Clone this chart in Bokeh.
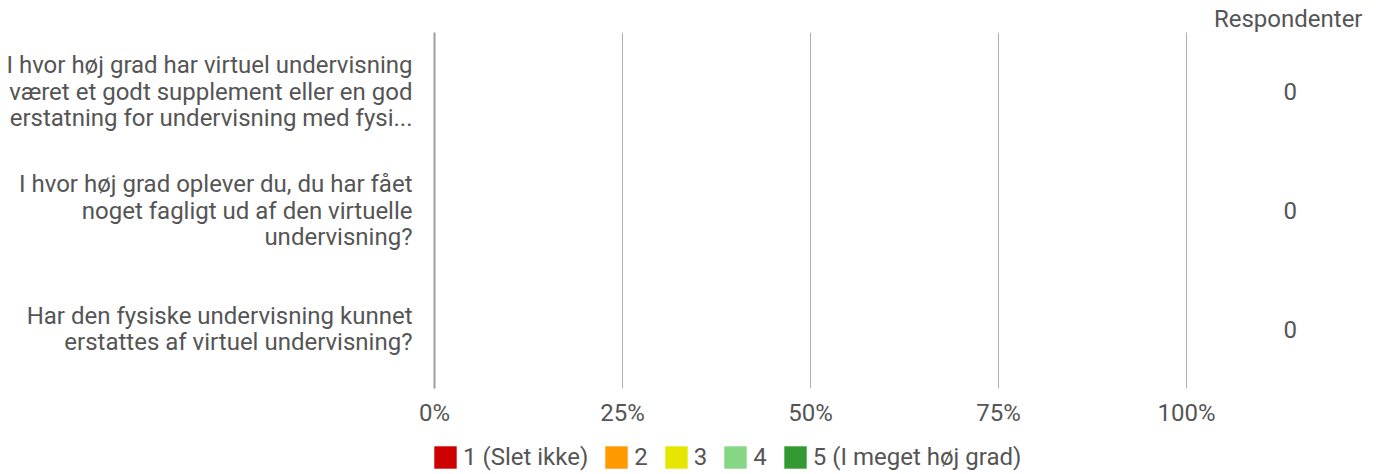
from bokeh.plotting import figure
from bokeh.layouts import column
from bokeh.models import Range1d, FixedTicker, Legend, LinearAxis, Title
from bokeh.embed import file_html
from bokeh.resources import INLINE

questions = [
    "I hvor høj grad har virtuel undervisning\nværet et godt supplement eller en god\nerstatning for undervisning med fysi...",
    "I hvor høj grad oplever du, du har fået\nnoget fagligt ud af den virtuelle\nundervisning?",
    "Har den fysiske undervisning kunnet\nerstattes af virtuel undervisning?",
]
series = ["1 (Slet ikke)", "2", "3", "4", "5 (I meget høj grad)"]
colors = ["#CC0000", "#FF9900", "#E6E600", "#85D685", "#339933"]
values = {
    "1 (Slet ikke)": [0, 0, 0],
    "2": [0, 0, 0],
    "3": [0, 0, 0],
    "4": [0, 0, 0],
    "5 (I meget høj grad)": [0, 0, 0],
}
respondents = [0, 0, 0]
respondents_header = "Respondenter"
x_ticks = [0, 25, 50, 75, 100]
x_tick_labels = ["0%", "25%", "50%", "75%", "100%"]

n = len(questions)
ypos = [n - 1 - i for i in range(n)]

TXT = "#555555"
FONT = "Roboto"
FS = "24px"
GRID = "#B0B0B0"

p = figure(frame_width=752, frame_height=356, output_backend="svg", toolbar_location=None,
           x_range=Range1d(0, 100), y_range=Range1d(-0.5, n - 0.5),
           min_border_left=434, min_border_right=194, min_border_top=32,
           min_border_bottom=50)
p.outline_line_color = None
p.background_fill_color = "white"
p.border_fill_color = "white"

src = dict(y=ypos)
for s in series:
    src[s] = values[s]
renderers = p.hbar_stack(series, y="y", height=0.5, color=colors, source=src, line_color=None)

# x axis
p.xaxis.ticker = FixedTicker(ticks=x_ticks)
p.xaxis.major_label_overrides = {t: l for t, l in zip(x_ticks, x_tick_labels)}
p.xaxis.axis_line_color = None
p.xaxis.major_tick_line_color = None
p.xaxis.minor_tick_line_color = None
p.xaxis.major_tick_out = 0
p.xaxis.minor_tick_out = 0
p.xaxis.major_label_text_font = FONT
p.xaxis.major_label_text_font_size = FS
p.xaxis.major_label_text_color = TXT
p.xaxis.major_label_standoff = 10

p.xgrid.ticker = FixedTicker(ticks=x_ticks[1:-1])
p.xgrid.grid_line_color = GRID
p.xgrid.grid_line_width = 1
p.ygrid.grid_line_color = None

# y axis (questions)
p.yaxis.ticker = FixedTicker(ticks=ypos)
p.yaxis.major_label_overrides = {y: q for y, q in zip(ypos, questions)}
p.yaxis.axis_line_color = "#9E9E9E"
p.yaxis.axis_line_width = 2
p.yaxis.major_tick_line_color = None
p.yaxis.minor_tick_line_color = None
p.yaxis.major_tick_out = 0
p.yaxis.minor_tick_out = 0
p.yaxis.major_label_text_font = FONT
p.yaxis.major_label_text_font_size = FS
p.yaxis.major_label_text_color = TXT
p.yaxis.major_label_text_line_height = 0.95
p.yaxis.major_label_standoff = 22

# right axis: respondents
raxis = LinearAxis(ticker=FixedTicker(ticks=ypos),
                   major_label_overrides={y: str(r) for y, r in zip(ypos, respondents)})
raxis.axis_line_color = GRID
raxis.axis_line_width = 1
raxis.major_tick_line_color = None
raxis.minor_tick_line_color = None
raxis.major_tick_out = 0
raxis.minor_tick_out = 0
raxis.major_label_text_font = FONT
raxis.major_label_text_font_size = FS
raxis.major_label_text_color = TXT
raxis.major_label_standoff = 97
p.add_layout(raxis, "right")

# header above the respondents column
t = Title(text=respondents_header, align="right", offset=-176, standoff=0,
          text_font=FONT, text_font_size=FS, text_color=TXT, text_font_style="normal")
p.add_layout(t, "above")

# legend strip below the chart
lp = figure(frame_width=1380, frame_height=36, output_backend="svg", toolbar_location=None,
            x_range=Range1d(0, 100), y_range=Range1d(-0.5, n - 0.5),
            min_border_left=0, min_border_right=0, min_border_top=0, min_border_bottom=0)
lp.axis.visible = False
lp.grid.grid_line_color = None
lp.outline_line_color = None
lp.background_fill_color = "white"
lp.border_fill_color = "white"
lrenderers = lp.hbar_stack(series, y="y", height=0.5, color=colors, source=dict(src), line_color=None)

legend = Legend(items=[(s, [r]) for s, r in zip(series, lrenderers)],
                orientation="horizontal", location=(431, 3))
legend.glyph_width = 28
legend.glyph_height = 28
legend.label_height = 28
legend.label_width = 1
legend.label_standoff = 4
legend.spacing = 14
legend.padding = 0
legend.margin = 0
legend.border_line_color = None
legend.background_fill_alpha = 0
legend.label_text_font = FONT
legend.label_text_font_size = FS
legend.label_text_color = TXT
legend.label_text_baseline = "middle"
lp.add_layout(legend, "center")

layout = column(p, lp, spacing=0)
open("out.html", "w").write(file_html(layout, INLINE))
